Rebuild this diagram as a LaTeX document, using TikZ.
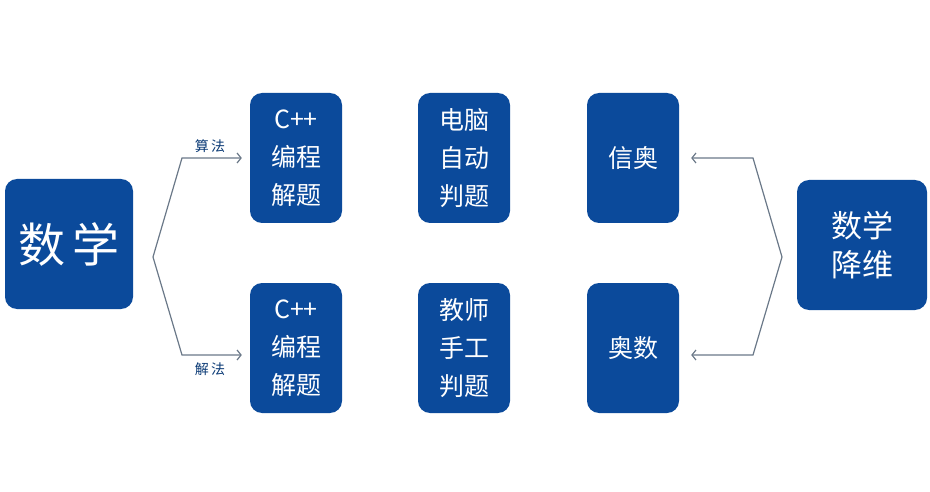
\documentclass[tikz,border=0pt]{standalone}
\usepackage{fontspec}
\newfontfamily\cjk{Noto Sans CJK SC}
\usetikzlibrary{calc}
\usetikzlibrary{shapes,arrows,arrows.meta}
\definecolor{boxblue}{HTML}{0B4A9B}
\definecolor{linegray}{HTML}{6A7888}
\tikzset{
  box/.style={rectangle, rounded corners=12pt, fill=boxblue, text=white,
    minimum width=92pt, minimum height=130pt, align=center, inner sep=0pt,
    font=\cjk\fontsize{25}{38}\selectfont},
  link/.style={draw=linegray, line width=1.2pt, -{Straight Barb[length=4pt,width=10pt]}},
  tag/.style={text=boxblue!75!black, font=\cjk\fontsize{14}{16}\selectfont}
}
\begin{document}
\begin{tikzpicture}[x=1pt,y=-1pt]
    \useasboundingbox (0,0) rectangle (930,492);

    \node [box, minimum width=128pt, font=\cjk\fontsize{47}{52}\selectfont] (math) at (69,244) {数\,学};
    \node [box] (cppA) at (296,158) {C++\\编程\\解题};
    \node [box] (cppB) at (296,348) {C++\\编程\\解题};
    \node [box] (auto) at (464,158) {电脑\\自动\\判题};
    \node [box] (hand) at (464,348) {教师\\手工\\判题};
    \node [box] (xinao) at (633,158) {信奥};
    \node [box] (aoshu) at (633,348) {奥数};
    \node [box, minimum width=130pt, font=\cjk\fontsize{31}{39}\selectfont] (lower) at (862,245) {数学\\降维};

    \coordinate (L0) at (153,257);
    \coordinate (L1) at (182,158);
    \coordinate (L2) at (182,355);
    \coordinate (R0) at (782,257);
    \coordinate (R1) at (753,158);
    \coordinate (R2) at (753,355);

    \draw [link, shorten >=8pt] (L0) -- (L1) -- (cppA);
    \draw [link, shorten >=8pt] (L0) -- (L2) -- (cppB.west |- L2);
    \draw [link, shorten >=12pt] (R0) -- (R1) -- (xinao);
    \draw [link, shorten >=12pt] (R0) -- (R2) -- (aoshu.east |- R2);

    \node [tag] (suanfa) at (210,146) {算\,法};
    \node [tag] (jiefa) at (210,369) {解\,法};
\end{tikzpicture}
\end{document}
